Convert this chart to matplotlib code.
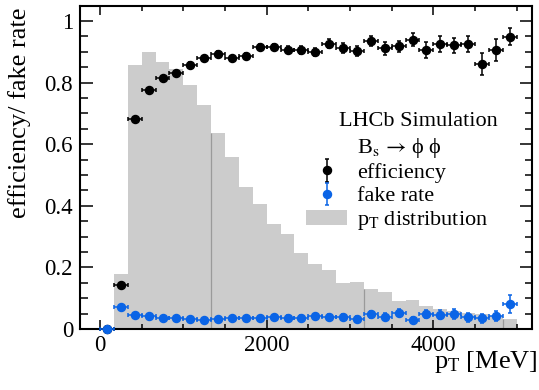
import numpy as np
import matplotlib
matplotlib.use('Agg')
import matplotlib.pyplot as plt
from matplotlib.patches import Patch
from matplotlib.ticker import MultipleLocator, FuncFormatter

# ---- data ----
pt_edges = np.linspace(0, 5000, 31)          # MeV, 30 bins
pt_dist = [0.0, 0.177, 0.856, 0.898, 0.866, 0.846, 0.791, 0.726, 0.635, 0.558,
           0.462, 0.406, 0.340, 0.308, 0.248, 0.211, 0.192, 0.150, 0.153, 0.130,
           0.119, 0.091, 0.094, 0.075, 0.065, 0.059, 0.051, 0.048, 0.043, 0.032]
efficiency = [0.0, 0.144, 0.682, 0.777, 0.815, 0.833, 0.859, 0.879, 0.894, 0.880,
              0.887, 0.916, 0.917, 0.907, 0.905, 0.900, 0.926, 0.913, 0.903, 0.936,
              0.911, 0.918, 0.940, 0.906, 0.925, 0.921, 0.924, 0.860, 0.905, 0.949]
efficiency_err = [0.0, 0.006, 0.006, 0.006, 0.006, 0.006, 0.007, 0.007, 0.008, 0.008,
                  0.009, 0.009, 0.010, 0.011, 0.013, 0.013, 0.015, 0.016, 0.016, 0.017,
                  0.020, 0.018, 0.021, 0.025, 0.026, 0.024, 0.026, 0.036, 0.036, 0.027]
fake_rate = [0.0, 0.071, 0.0455, 0.041, 0.037, 0.035, 0.034, 0.030, 0.034, 0.035,
             0.037, 0.037, 0.040, 0.037, 0.037, 0.041, 0.040, 0.039, 0.033, 0.048,
             0.040, 0.053, 0.029, 0.048, 0.047, 0.048, 0.038, 0.035, 0.041, 0.080]
fake_rate_err = [0.002, 0.004, 0.003, 0.003, 0.003, 0.003, 0.003, 0.004, 0.004, 0.005,
                 0.005, 0.006, 0.007, 0.007, 0.008, 0.009, 0.009, 0.010, 0.010, 0.011,
                 0.011, 0.012, 0.011, 0.013, 0.014, 0.016, 0.014, 0.014, 0.016, 0.029]
edge_line_bins = [8, 19, 29]   # bins whose left edge shows a darker line

xticks = [0, 2000, 4000]
yticks = [0, 0.2, 0.4, 0.6, 0.8, 1.0]

# ---- style ----
plt.rcParams['font.family'] = ['Liberation Serif', 'STIXGeneral', 'DejaVu Serif']
plt.rcParams['mathtext.fontset'] = 'custom'
plt.rcParams['mathtext.rm'] = 'Liberation Serif'
plt.rcParams['mathtext.it'] = 'Liberation Serif:italic'
plt.rcParams['mathtext.sf'] = 'Liberation Serif'

BLUE = '#0a64e6'
GREY = '#cccccc'

W, H = 539, 390
fig = plt.figure(figsize=(W / 100, H / 100), dpi=100)
ax = fig.add_axes([80 / W, 1 - 329 / H, (532 - 80) / W, (329 - 6) / H])

edges = np.asarray(pt_edges)
dist = np.asarray(pt_dist)
centers = 0.5 * (edges[:-1] + edges[1:])
half = 0.5 * np.diff(edges)

ax.bar(edges[:-1], dist, width=np.diff(edges), align='edge', color=GREY,
       linewidth=0, zorder=1)
ax.vlines(edges[edge_line_bins], 0, dist[edge_line_bins], colors='#9a9a9a',
          linewidth=0.9, zorder=1.5)

eb_kw = dict(fmt='o', ms=5.8, elinewidth=1.1, capsize=1.4, capthick=1.1)
e1 = ax.errorbar(centers, efficiency, xerr=half, yerr=efficiency_err,
                 color='black', zorder=3, **eb_kw)
e2 = ax.errorbar(centers, fake_rate, xerr=half, yerr=fake_rate_err,
                 color=BLUE, zorder=4, **eb_kw)
for cont in (e1, e2):
    for art in cont.get_children():
        art.set_clip_on(False)

ax.set_xlim(-240, 5184)
ax.set_ylim(0, 1.049)
ax.set_xticks(xticks)
ax.set_yticks(yticks)
ax.xaxis.set_minor_locator(MultipleLocator(500))
ax.yaxis.set_minor_locator(MultipleLocator(0.05))
ax.yaxis.set_major_formatter(FuncFormatter(lambda v, p: f'{v:g}'))
ax.tick_params(which='both', direction='in', top=True, right=True, width=1.1,
               labelsize=16.5)
ax.tick_params(axis='x', which='major', length=6.5, pad=4)
ax.tick_params(axis='x', which='minor', length=3.6)
ax.tick_params(axis='y', which='major', length=9, pad=5)
ax.tick_params(axis='y', which='minor', length=5.4)
for s in ax.spines.values():
    s.set_linewidth(1.5)

fig.text(20 / W, 1 - 7 / H, 'efficiency/ fake rate', rotation=90,
         ha='center', va='top', fontsize=19)
fig.text(538 / W, 1 - 368 / H, r'p$_\mathregular{T}$ [MeV]', ha='right',
         va='baseline', fontsize=19)

# ---- legend ----
fig.text(339 / W, 1 - 121 / H, 'LHCb Simulation', ha='left', va='center',
         fontsize=16)
h_dec = Patch(facecolor='none', edgecolor='none')
h_eff = ax.errorbar([np.nan], [np.nan], yerr=[0.02], color='black', **eb_kw)
h_fake = ax.errorbar([np.nan], [np.nan], yerr=[0.02], color=BLUE, **eb_kw)
h_dist = Patch(facecolor=GREY, edgecolor='none')
leg = ax.legend([h_dec, h_eff, h_fake, h_dist],
                [r'B$_\mathrm{s}\,\rightarrow\,$ϕ ϕ', 'efficiency', 'fake rate',
                 r'p$_\mathregular{T}$ distribution'],
                loc='upper left', bbox_to_anchor=(306 / W, 1 - 136 / H),
                bbox_transform=fig.transFigure, frameon=False, fontsize=16,
                borderpad=0, borderaxespad=0, handlelength=1.85,
                handletextpad=0.45, labelspacing=0.12, handleheight=0.7)
leg.get_texts()[0].set_math_fontfamily('stix')

fig.savefig('out.png', dpi=100)
